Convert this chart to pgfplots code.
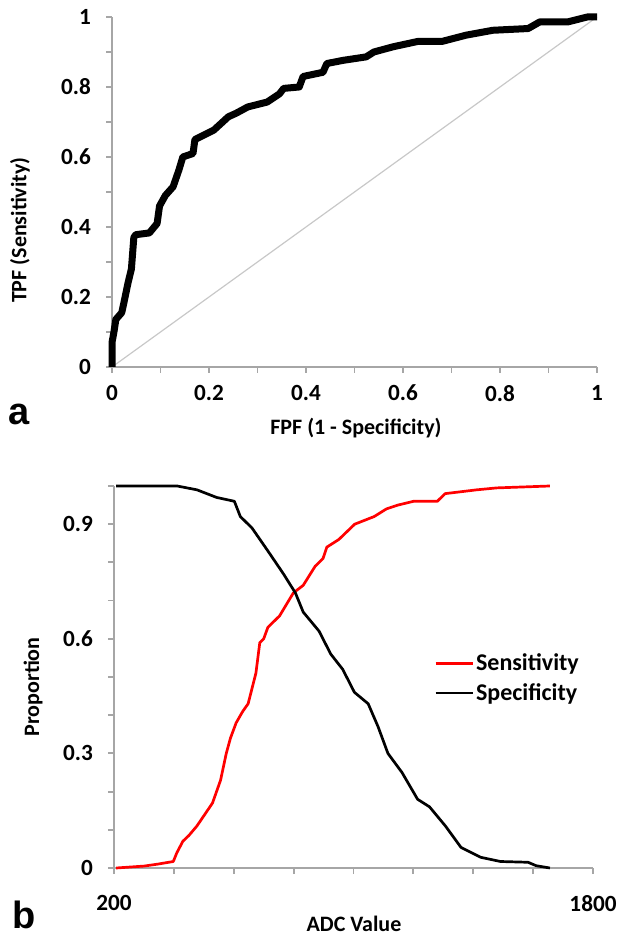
\documentclass[border=0pt]{standalone}
\usepackage{fontspec}
\setmainfont{Carlito}
\newfontfamily\arialfont{Liberation Sans}
\usepackage{pgfplots}
\pgfplotsset{compat=1.18}
\definecolor{axgray}{RGB}{166,166,166}
\definecolor{diaggray}{RGB}{200,200,200}

\pgfplotsset{
  panel/.style={
    scale only axis,
    anchor=south west,
    axis x line=bottom, axis y line=left,
    axis line style={axgray, line width=0.9pt, -},
    tick align=outside,
    major tick length=3pt, minor tick length=3pt,
    every tick/.style={axgray, line width=0.9pt},
    tick label style={font=\fontsize{11.6}{13}\selectfont\bfseries},
    yticklabel style={xshift=-4pt},
    label style={font=\fontsize{11}{13}\selectfont\bfseries, anchor=center},
    /pgf/number format/assume math mode=true,
    /pgf/number format/1000 sep={},
    scaled ticks=false,
    clip=false,
  }
}

\begin{document}
\begin{tikzpicture}
\path[use as bounding box] (0,0) rectangle (309pt,467.5pt);

% panel a: ROC curve
\begin{axis}[panel,
  at={(56pt,284pt)}, width=242.5pt, height=175pt,
  xmin=0, xmax=1, ymin=0, ymax=1,
  xtick={0,0.2,0.4,0.6,0.8,1}, minor xtick={0.1,0.3,0.5,0.7,0.9},
  ytick={0,0.2,0.4,0.6,0.8,1}, minor ytick={0.1,0.3,0.5,0.7,0.9},
  xticklabel style={yshift=-2.5pt},
  xlabel={FPF (1 - Specificity)}, ylabel={TPF (Sensitivity)},
  xlabel style={at={(axis description cs:0.503,-0.174)}},
  ylabel style={at={(axis description cs:-0.19,0.391)}},
]
\addplot[diaggray, line width=0.6pt] coordinates {(0,0) (1,1)};
\addplot[black, line width=3.5pt, line join=round] coordinates {
(0,0) (0,0.07) (0.004,0.10) (0.008,0.136) (0.02,0.155) (0.024,0.18)
(0.033,0.24) (0.04,0.28) (0.045,0.37) (0.049,0.378) (0.077,0.383)
(0.093,0.41) (0.098,0.46) (0.11,0.49) (0.126,0.515) (0.138,0.563)
(0.146,0.60) (0.167,0.61) (0.171,0.65) (0.19,0.663) (0.21,0.677)
(0.24,0.715) (0.256,0.725) (0.28,0.743) (0.32,0.757) (0.345,0.78)
(0.354,0.796) (0.386,0.80) (0.394,0.83) (0.435,0.842) (0.443,0.867)
(0.476,0.876) (0.524,0.886) (0.54,0.90) (0.58,0.915) (0.63,0.93)
(0.68,0.93) (0.73,0.948) (0.785,0.962) (0.858,0.967) (0.882,0.986)
(0.94,0.986) (0.98,1.0) (1.0,1.0)};
\end{axis}

% panel b: sensitivity and specificity vs ADC
\begin{axis}[panel,
  at={(57pt,33.5pt)}, width=239.5pt, height=191pt,
  xmin=200, xmax=1800, ymin=0, ymax=1,
  xtick={200,1800}, minor xtick={400,600,800,1000,1200,1400,1600},
  ytick={0,0.3,0.6,0.9}, minor ytick={0.1,0.2,0.4,0.5,0.7,0.8,1.0},
  xticklabel style={yshift=-7pt},
  xlabel={ADC Value}, ylabel={Proportion},
  xlabel style={at={(axis description cs:0.501,-0.147)}},
  ylabel style={at={(axis description cs:-0.169,0.474)}},
  legend style={draw=none, fill=none, at={(axis description cs:0.668,0.497)},
    anchor=west, inner sep=0pt, row sep=3pt,
    font=\fontsize{12}{14}\selectfont\bfseries,
    nodes={inner sep=1pt}, cells={anchor=west}},
  legend image code/.code={\draw[#1] (0pt,0pt) -- (18.5pt,0pt);},
]
\addplot[red, line width=1.35pt, line join=round] coordinates {
(207,0) (300,0.005) (345,0.01) (398,0.017) (410,0.04) (430,0.07)
(450,0.085) (477,0.11) (503,0.14) (529,0.17) (556,0.23) (575,0.30)
(589,0.34) (608,0.38) (630,0.41) (648,0.43) (674,0.51) (687,0.59)
(700,0.60) (714,0.63) (753,0.66) (799,0.72) (832,0.74) (872,0.79)
(898,0.81) (911,0.84) (951,0.86) (1004,0.90) (1069,0.92) (1110,0.94)
(1148,0.95) (1201,0.96) (1280,0.96) (1306,0.98) (1412,0.99)
(1478,0.995) (1656,1.0)};
\addlegendentry{Sensitivity}
\addplot[black, line width=1.35pt, line join=round] coordinates {
(207,1.0) (411,1.0) (477,0.99) (543,0.97) (602,0.96) (622,0.92)
(661,0.89) (714,0.83) (766,0.77) (806,0.72) (832,0.67) (885,0.62)
(911,0.58) (924,0.56) (964,0.52) (1003,0.46) (1049,0.43) (1082,0.37)
(1115,0.30) (1162,0.25) (1214,0.18) (1254,0.16) (1307,0.11)
(1359,0.054) (1425,0.028) (1491,0.017) (1583,0.015) (1610,0.006)
(1656,0)};
\addlegendentry{Specificity}
\end{axis}

\node[font=\arialfont\fontsize{19}{22}\selectfont\bfseries, anchor=base west, inner sep=0pt] at (4pt,255pt) {a};
\node[font=\arialfont\fontsize{19}{22}\selectfont\bfseries, anchor=base west, inner sep=0pt] at (6pt,3pt) {b};
\end{tikzpicture}
\end{document}
